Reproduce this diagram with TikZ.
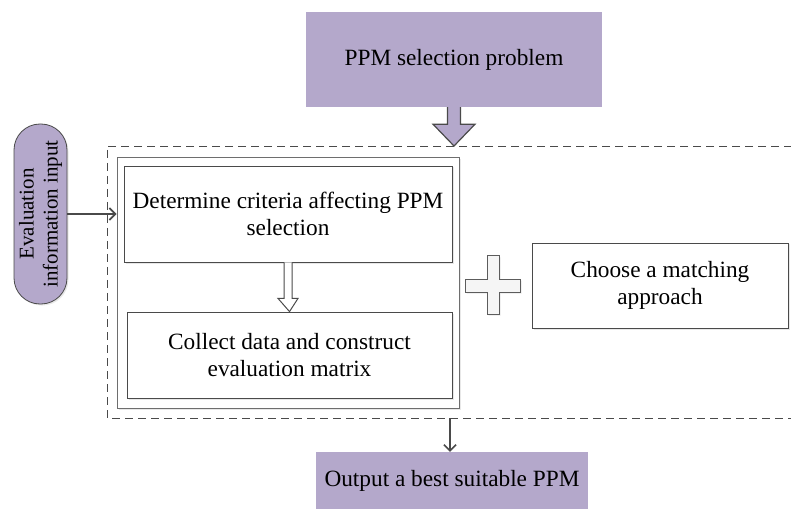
\documentclass[tikz,border=0pt]{standalone}
\usepackage{fontspec}
\setmainfont{Liberation Serif}
\usetikzlibrary{arrows.meta,shadows,calc}
\definecolor{lav}{HTML}{B4A8CB}
\definecolor{edge}{HTML}{4A4A4A}
\tikzset{
  x=1pt,y=-1pt,
  txt/.style={font=\fontsize{23.3}{27}\selectfont, align=center, inner sep=0pt},
  lavbox/.style={txt, fill=lav, draw=none},
  whitebox/.style={txt, fill=white, draw=edge, line width=0.8pt,
     drop shadow={shadow xshift=1.5pt, shadow yshift=-1.5pt, fill=black!18}},
  framebox/.style={draw=edge!80, line width=1pt, fill=white,
     drop shadow={shadow xshift=1.5pt, shadow yshift=-1.5pt, fill=black!18}},
  pill/.style={fill=lav, draw=edge, line width=0.8pt, rounded corners=26pt,
     drop shadow={shadow xshift=1.5pt, shadow yshift=-1.5pt, fill=black!18}},
  hollow/.style={draw=edge, line width=1.2pt, line join=miter},
  conn/.style={draw=edge, line width=1.6pt, -{Straight Barb[length=6pt,width=12pt,line width=1.6pt]}},
  dashframe/.style={draw=edge, line width=0.8pt, dash pattern=on 8pt off 5pt},
}
\begin{document}
\begin{tikzpicture}
\useasboundingbox (0,0) rectangle (791,510);

% top problem box
\node[lavbox, minimum width=296pt, minimum height=95pt] (top) at (454,59.5) {PPM selection problem};

% dashed region
\draw[dashframe] (792,146) -- (107,146) -- (107,418) -- (792,418);
\coordinate (dashtop) at (454,146);
\coordinate (dashbot) at (450,418);

% big hollow arrow from top box
\draw[hollow, fill=lav] ($(top.south)+(-6.5,0)$) -- ($(top.south)+(-6.5,17)$) -- ($(top.south)+(-21,17)$)
   -- (dashtop) -- ($(top.south)+(21,17)$) -- ($(top.south)+(6.5,17)$) -- ($(top.south)+(6.5,0)$);

% left group frame
\node[framebox, minimum width=342pt, minimum height=250pt, inner sep=0pt] (frame) at (288,283) {};

% inner boxes
\node[whitebox, minimum width=328pt, minimum height=96pt] (det) at (288,214)
  {Determine criteria affecting PPM\\selection};
\node[whitebox, minimum width=325pt, minimum height=86pt] (col) at (289.5,355)
  {Collect data and construct\\evaluation matrix};

% small hollow arrow
\draw[hollow, line width=1pt, fill=white] ($(det.south)+(-4,0)$) -- ($(det.south)+(-4,36)$) -- ($(det.south)+(-10,36)$)
   -- (col.north) -- ($(det.south)+(10,36)$) -- ($(det.south)+(4,36)$) -- ($(det.south)+(4,0)$);

% plus sign
\coordinate (plusc) at (492.5,285.5);
\draw[draw=edge!90, line width=1pt, fill=black!4,
      drop shadow={shadow xshift=1.5pt, shadow yshift=-1.5pt, fill=black!18}]
  (465,279) -- (487,279) -- (487,256) -- (499,256) -- (499,279) -- (520,279)
  -- (520,292) -- (499,292) -- (499,314) -- (487,314) -- (487,292) -- (465,292) -- cycle;

% choose box
\node[whitebox, minimum width=256pt, minimum height=85pt] (cho) at (660,285.5)
  {Choose a matching\\approach};

% evaluation pill
\node[pill, minimum width=53pt, minimum height=180pt, inner sep=0pt] (eval) at (40.5,214) {};
\node[font=\fontsize{21}{24}\selectfont, align=center, rotate=90, inner sep=0pt] (evaltxt) at (eval.center)
  {Evaluation\\information input};

% connectors
\draw[conn] (eval.east) -- (frame.west |- eval.east);

% output box
\node[lavbox, minimum width=272pt, minimum height=57pt] (out) at (452,480.5) {Output a best suitable PPM};
\draw[conn] (dashbot) -- (dashbot |- out.north);

\end{tikzpicture}
\end{document}
